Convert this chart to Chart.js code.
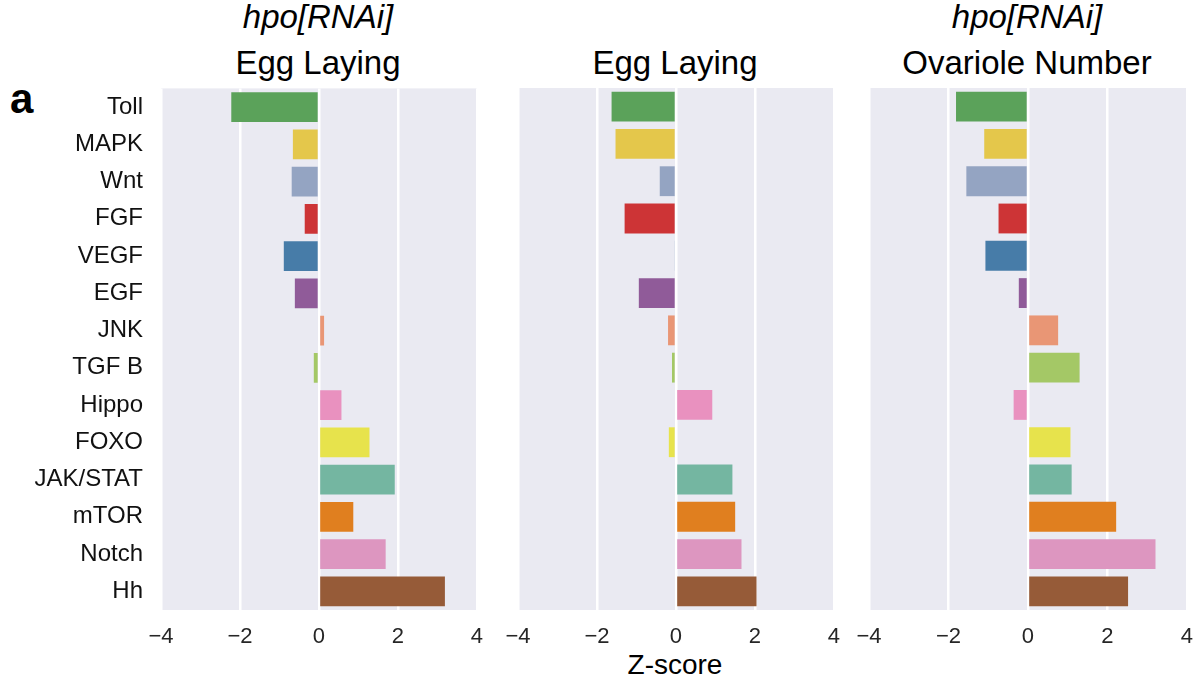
<!DOCTYPE html>
<html lang="en">
<head>
  <meta charset="UTF-8" />
  <title>Pathway Z-scores</title>
  <script src="https://cdn.jsdelivr.net/npm/chart.js@4.4.1/dist/chart.umd.min.js"></script>
  <style>
    body {
      margin: 0;
      width: 1201px;
      height: 691px;
      background: #fff;
      font-family: 'Liberation Sans', Arial, sans-serif;
      position: relative;
      overflow: hidden;
    }
    .panel { position: absolute; top: 80px; height: 580px; }
    .title {
      position: absolute;
      font-size: 33px;
      line-height: 33px;
      color: #000;
      white-space: nowrap;
      transform: translateX(-50%);
    }
    .title.it { font-style: italic; }
    #tag {
      position: absolute; left: 10px; top: 78px;
      font-size: 42px; line-height: 42px; font-weight: bold;
    }
    #xlabel {
      position: absolute; left: 675px; top: 651px;
      font-size: 28px; line-height: 28px;
      transform: translateX(-50%);
    }
  </style>
</head>
<body>
  <div class="title it" style="left:318px; top:0px;">hpo[RNAi]</div>
  <div class="title" style="left:318px; top:46px;">Egg Laying</div>
  <div class="title" style="left:675px; top:46px;">Egg Laying</div>
  <div class="title it" style="left:1027px; top:0px;">hpo[RNAi]</div>
  <div class="title" style="left:1027px; top:46px;">Ovariole Number</div>
  <div id="tag">a</div>
  <div id="xlabel">Z-score</div>

  <!-- panel 1 starts higher: its y labels add extra top padding -->
  <div class="panel" style="left:0px; width:497px; top:56px; height:604px;"><canvas id="p1"></canvas></div>
  <div class="panel" style="left:490px; width:364px;"><canvas id="p2"></canvas></div>
  <div class="panel" style="left:841px; width:366px;"><canvas id="p3"></canvas></div>

<script>
  const pathways = ['Toll', 'MAPK', 'Wnt', 'FGF', 'VEGF', 'EGF', 'JNK', 'TGF B',
                    'Hippo', 'FOXO', 'JAK/STAT', 'mTOR', 'Notch', 'Hh'];
  const hpoEggLaying = [-2.22, -0.66, -0.69, -0.36, -0.89, -0.61, 0.13, -0.13,
                        0.57, 1.28, 1.92, 0.87, 1.69, 3.19];
  const eggLaying = [-1.63, -1.53, -0.41, -1.30, -0.03, -0.94, -0.20, -0.10,
                     0.92, -0.18, 1.43, 1.50, 1.66, 2.04];
  const hpoOvarioleNumber = [-1.81, -1.10, -1.55, -0.74, -1.07, -0.23, 0.76, 1.30,
                             -0.36, 1.07, 1.10, 2.22, 3.21, 2.52];
  const xTicks = [-4, -2, 0, 2, 4];
  const barColors = ['#5ba25a', '#e4c74b', '#94a4c2', '#cd3436', '#477ca8', '#905b99', '#e99675',
                     '#a4c866', '#e991bf', '#e7e34c', '#74b6a1', '#e07f1f', '#dd96c0', '#965b38'];

  Chart.defaults.font.family = "'Liberation Sans', Arial, sans-serif";

  // grey seaborn-style plot background
  const plotBg = {
    id: 'plotBg',
    beforeDraw(chart) {
      const { ctx, chartArea: a } = chart;
      ctx.save();
      ctx.fillStyle = '#eaeaf2';
      ctx.fillRect(a.left, a.top, a.right - a.left, a.bottom - a.top);
      ctx.restore();
    }
  };

  function makePanel(id, values, showLabels, yWidth) {
    new Chart(document.getElementById(id), {
      type: 'bar',
      data: {
        labels: pathways,
        datasets: [{
          data: values,
          backgroundColor: barColors,
          borderWidth: 0,
          barPercentage: 0.8,
          categoryPercentage: 1.0
        }]
      },
      options: {
        indexAxis: 'y',
        responsive: true,
        maintainAspectRatio: false,
        animation: false,
        layout: { padding: { top: 8, right: 10, left: 0, bottom: 0 } },
        plugins: { legend: { display: false }, tooltip: { enabled: false } },
        scales: {
          x: {
            type: 'linear',
            min: xTicks[0],
            max: xTicks[xTicks.length - 1],
            afterBuildTicks: s => { s.ticks = xTicks.map(v => ({ value: v })); },
            afterFit: s => { s.height = 50; },
            grid: { color: '#ffffff', lineWidth: 2.5, drawTicks: false },
            border: { display: false },
            ticks: {
              color: '#262626',
              font: { size: 22 },
              padding: 14,
              callback: v => String(v).replace('-', '\u2212')
            }
          },
          y: {
            type: 'category',
            afterFit: s => { s.width = yWidth; },
            grid: { display: false, drawTicks: false },
            border: { display: false },
            ticks: { display: showLabels, color: '#111111', font: { size: 24 }, padding: 18 }
          }
        }
      },
      plugins: [plotBg]
    });
  }

  makePanel('p1', hpoEggLaying, true, 161);
  makePanel('p2', eggLaying, false, 28);
  makePanel('p3', hpoOvarioleNumber, false, 28);
</script>
</body>
</html>
